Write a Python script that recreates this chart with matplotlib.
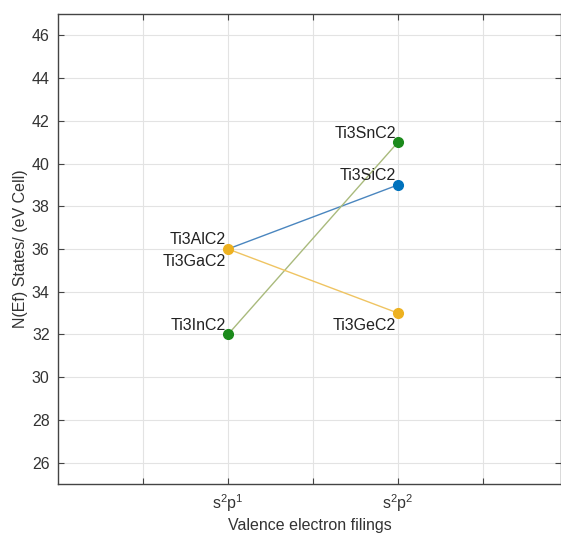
import numpy as np
import matplotlib
matplotlib.use('Agg')
import matplotlib.pyplot as plt

plt.rcParams['font.family'] = ['Liberation Sans', 'DejaVu Sans']
plt.rcParams['mathtext.fontset'] = 'custom'
plt.rcParams['mathtext.rm'] = 'Liberation Sans'
plt.rcParams['mathtext.default'] = 'regular'

# data
filing_pos = [1, 2]
filing_labels = ['s$^2$p$^1$', 's$^2$p$^2$']
tick_pos = [0.5, 1, 1.5, 2, 2.5]
tick_labels = ['', filing_labels[0], '', filing_labels[1], '']

names_blue = ['Ti3AlC2', 'Ti3SiC2']
vals_blue = [36, 39]
names_orange = ['Ti3GaC2', 'Ti3GeC2']
vals_orange = [36, 33]
names_green = ['Ti3InC2', 'Ti3SnC2']
vals_green = [32, 41]

txt = '#333333'
fs = 11.5

fig = plt.figure(figsize=(5.61, 5.38), dpi=100)
ax = fig.add_axes([58/561, 54/538, 503/561, 470/538])

ax.plot(filing_pos, vals_blue, '-', color='#4a86bf', lw=1.0)
ax.plot(filing_pos, vals_green, '-', color='#a9ba7c', lw=1.0)
ax.plot(filing_pos, vals_orange, '-', color='#efc462', lw=1.0)
ax.plot(filing_pos[1], vals_blue[1], 'o', color='#0072BD', ms=7)
ax.plot(filing_pos, vals_green, 'o', color='#1b8a1b', ms=7, lw=0)
ax.plot(filing_pos, vals_orange, 'o', color='#EDB120', ms=7, lw=0)

# labels next to the points
def lab(x, y, s, dy):
    ax.annotate(s, (x, y), xytext=(-2, dy), textcoords='offset pixels',
                ha='right', va='center', fontsize=fs, color='#222222')

lab(filing_pos[0], vals_blue[0], names_blue[0], 9)
lab(filing_pos[1], vals_blue[1], names_blue[1], 9)
lab(filing_pos[0], vals_orange[0], names_orange[0], -12)
lab(filing_pos[1], vals_orange[1], names_orange[1], -12)
lab(filing_pos[0], vals_green[0], names_green[0], 9)
lab(filing_pos[1], vals_green[1], names_green[1], 9)

ax.set_xlim(0, 503/170)
ax.set_ylim(25, 47)
ax.set_xticks(tick_pos)
ax.set_xticklabels(tick_labels)
ax.set_yticks(np.arange(26, 47, 2))

ax.grid(True, color='#e3e3e3', lw=0.8)
ax.set_axisbelow(True)
ax.tick_params(direction='in', length=4, width=0.8, color='#444444',
               labelsize=fs, labelcolor=txt, top=True, right=True, pad=6)
for sp in ax.spines.values():
    sp.set_color('#444444')
    sp.set_linewidth(1.0)

ax.set_xlabel('Valence electron filings', fontsize=fs, color=txt, labelpad=3)
ax.set_ylabel('N(Ef) States/ (eV Cell)', fontsize=fs, color=txt, labelpad=3)

fig.savefig('out.png', dpi=100)
